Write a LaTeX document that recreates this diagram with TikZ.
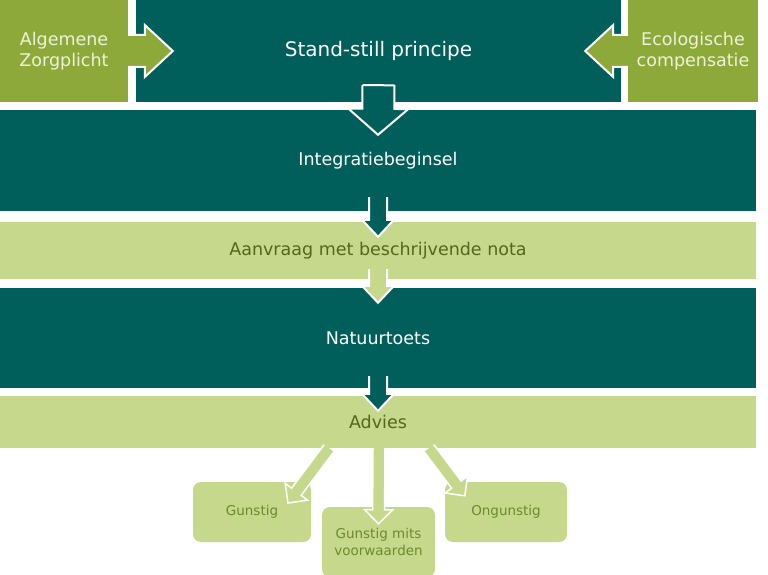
\documentclass[tikz,border=0pt]{standalone}
\usepackage{fontspec}
\setmainfont{DejaVu Sans}
\usepackage{tikz}
\usetikzlibrary{positioning, calc}
\definecolor{DeepTeal}{RGB}{0,95,90}
\definecolor{Olive}{RGB}{141,169,58}
\definecolor{PaleGreen}{RGB}{198,216,140}
\definecolor{OliveText}{RGB}{82,104,28}
\definecolor{SoftOlive}{RGB}{108,138,46}
\definecolor{Cream}{RGB}{238,242,218}
\tikzset{
  blok/.style={inner sep=0pt, align=center, font=\fontsize{17.5}{21}\selectfont},
  tealbox/.style={blok, fill=DeepTeal, text=white},
  olivebox/.style={blok, fill=Olive, text=Cream},
  palebox/.style={blok, fill=PaleGreen, text=OliveText},
  outbox/.style={blok, fill=PaleGreen, text=SoftOlive, rounded corners=8pt,
    font=\fontsize{13.5}{17}\selectfont},
  pijlrand/.style={draw=white, line width=2pt, line join=miter},
}
% block arrow: [fill colour] {start} {tip} {half shaft} {half head} {head length}
\newcommand{\blokpijl}[6][]{%
  \coordinate (pS) at #2;
  \coordinate (pE) at #3;
  \coordinate (pB) at ($(pE)!#6!(pS)$);
  \fill[#1] ($(pS)!#4!90:(pE)$) -- ($(pB)!#4!90:(pE)$) -- ($(pB)!#5!90:(pE)$) -- (pE)
    -- ($(pB)!#5!-90:(pE)$) -- ($(pB)!#4!-90:(pE)$) -- ($(pS)!#4!-90:(pE)$) -- cycle;
  \draw[pijlrand] ($(pS)!#4!90:(pE)$) -- ($(pB)!#4!90:(pE)$) -- ($(pB)!#5!90:(pE)$) -- (pE)
    -- ($(pB)!#5!-90:(pE)$) -- ($(pB)!#4!-90:(pE)$) -- ($(pS)!#4!-90:(pE)$);
}

\begin{document}
\begin{tikzpicture}[x=1pt, y=-1pt]
  \useasboundingbox[fill=white] (0,0) rectangle (768,575);
  % top row
  \node[olivebox, minimum width=128pt, minimum height=102pt] (azorg) at (64,51) {Algemene\\Zorgplicht};
  \node[tealbox, minimum width=485pt, minimum height=102pt, font=\fontsize{20}{24}\selectfont] (standstill) at (378.5,51) {Stand-still principe};
  \node[olivebox, minimum width=130pt, minimum height=102pt] (ecocomp) at (693,51) {Ecologische\\compensatie};
  % bands
  \node[tealbox, minimum width=756pt, minimum height=101pt] (integratie) at (378,160.5) {Integratiebeginsel};
  \node[palebox, minimum width=756pt, minimum height=57pt] (aanvraag) at (378,250.5) {Aanvraag met beschrijvende nota};
  \node[tealbox, minimum width=756pt, minimum height=100pt] (natuurtoets) at (378,338) {Natuurtoets};
  \node[palebox, minimum width=756pt, minimum height=52pt] (advies) at (378,422) {Advies};
  % outcomes
  \node[outbox, minimum width=118pt, minimum height=60pt] (gunstig) at (252,512) {Gunstig};
  \node[outbox, minimum width=113pt, minimum height=70pt] (mits) at (378.5,542) {Gunstig mits\\voorwaarden};
  \node[outbox, minimum width=122pt, minimum height=60pt] (ongunstig) at (506,512) {Ongunstig};

  \blokpijl[Olive]{(azorg.east)}{([xshift=37]standstill.west)}{16pt}{26pt}{28pt}
  \blokpijl[Olive]{(ecocomp.west)}{([xshift=-36]standstill.east)}{16pt}{26pt}{28pt}
  \blokpijl[DeepTeal]{([yshift=17]standstill.south)}{([yshift=-25]integratie.north)}{16pt}{30pt}{26pt}
  \draw[pijlrand] ($(pS)!16pt!90:(pE)$) -- ($(pS)!16pt!-90:(pE)$);
  \blokpijl[DeepTeal]{([yshift=14]integratie.south)}{([yshift=-15]aanvraag.north)}{9pt}{16pt}{17pt}
  \blokpijl[PaleGreen]{([yshift=10]aanvraag.south)}{([yshift=-15]natuurtoets.north)}{9pt}{16pt}{17pt}
  \blokpijl[DeepTeal]{([yshift=12]natuurtoets.south)}{([yshift=-15]advies.north)}{9pt}{16pt}{17pt}
  \tikzset{pijlrand/.append style={line width=1.5pt}}
  \blokpijl[PaleGreen]{([xshift=-49]advies.south)}{([xshift=36,yshift=9]gunstig.center)}{6pt}{14pt}{14pt}
  \blokpijl[PaleGreen]{([xshift=1]advies.south)}{([yshift=-17]mits.north)}{6pt}{14pt}{14pt}
  \blokpijl[PaleGreen]{([xshift=51]advies.south)}{([xshift=20,yshift=-14]ongunstig.north west)}{6pt}{14pt}{14pt}
\end{tikzpicture}
\end{document}
